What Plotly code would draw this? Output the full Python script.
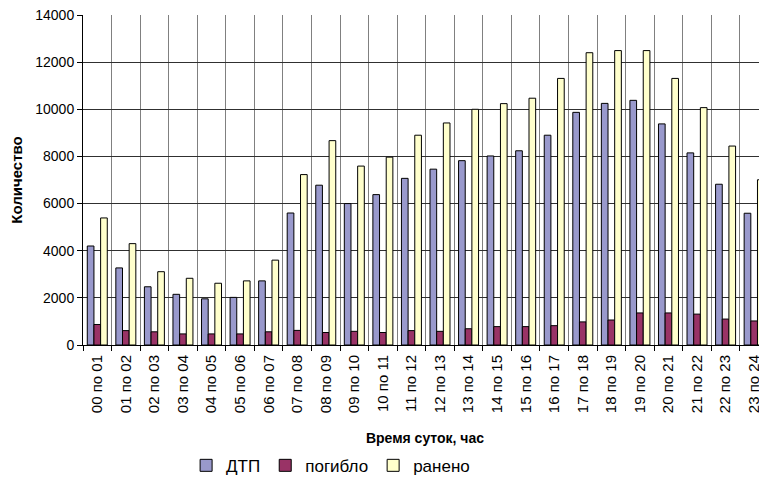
import plotly.graph_objects as go

categories = ["00 по 01", "01 по 02", "02 по 03", "03 по 04", "04 по 05", "05 по 06",
              "06 по 07", "07 по 08", "08 по 09", "09 по 10", "10 по 11", "11 по 12",
              "12 по 13", "13 по 14", "14 по 15", "15 по 16", "16 по 17", "17 по 18",
              "18 по 19", "19 по 20", "20 по 21", "21 по 22", "22 по 23", "23 по 24"]
dtp = [4200, 3270, 2470, 2150, 1960, 2020, 2720, 5600, 6780, 6000, 6380, 7070,
       7460, 7820, 8020, 8240, 8900, 9870, 10250, 10380, 9380, 8150, 6820, 5590]
pogiblo = [870, 610, 560, 470, 470, 470, 560, 620, 530, 580, 530, 610,
           580, 690, 780, 780, 820, 980, 1060, 1360, 1360, 1310, 1100, 1020]
raneno = [5390, 4300, 3110, 2830, 2620, 2720, 3600, 7230, 8670, 7590, 7970, 8900,
          9420, 10000, 10240, 10470, 11310, 12400, 12490, 12490, 11310, 10070, 8440, 7010]
y_ticks = [0, 2000, 4000, 6000, 8000, 10000, 12000, 14000]

FONT = "Liberation Sans, Arial, sans-serif"

fig = go.Figure()
series = [("ДТП", dtp, "#9999CC"), ("погибло", pogiblo, "#993366"), ("ранено", raneno, "#FFFFCC")]
for name, vals, color in series:
    fig.add_trace(go.Bar(x=categories, y=vals, name=name,
                         marker=dict(color=color, line=dict(color="black", width=1))))

# page body has an 8px margin, so the figure is sized/placed to compensate
fig.update_layout(
    width=759, height=472,
    margin=dict(l=75, r=0, t=7, b=135, autoexpand=False),
    paper_bgcolor="white", plot_bgcolor="white",
    barmode="group", bargap=0.3, bargroupgap=0,
    font=dict(family=FONT, size=14, color="black"),
    legend=dict(orientation="h", x=0.362, xanchor="center", y=-0.366, yanchor="middle",
                font=dict(family=FONT, size=17),
                itemwidth=30),
)
fig.update_xaxes(
    type="category", range=[-0.5, 23.45], tickson="boundaries", automargin=False,
    showgrid=True, gridcolor="#808080", gridwidth=1,
    ticks="outside", ticklen=5, tickcolor="black",
    tickangle=-90, tickfont=dict(size=15), ticklabelstandoff=3,
    showline=True, linecolor="black", linewidth=1,
    title=dict(text="<b>Время суток, час</b>", font=dict(size=14), standoff=21),
)
fig.update_yaxes(
    range=[0, 14000], tickvals=y_ticks, tickformat="d", ticklabeloverflow="allow",
    automargin=False,
    showgrid=True, gridcolor="#303030", gridwidth=1,
    ticks="outside", ticklen=5, tickcolor="black",
    showline=True, linecolor="black", linewidth=1,
    zeroline=False,
    title=dict(text="<b>Количество</b>", font=dict(size=15), standoff=9),
)

fig.write_html("out.html")
